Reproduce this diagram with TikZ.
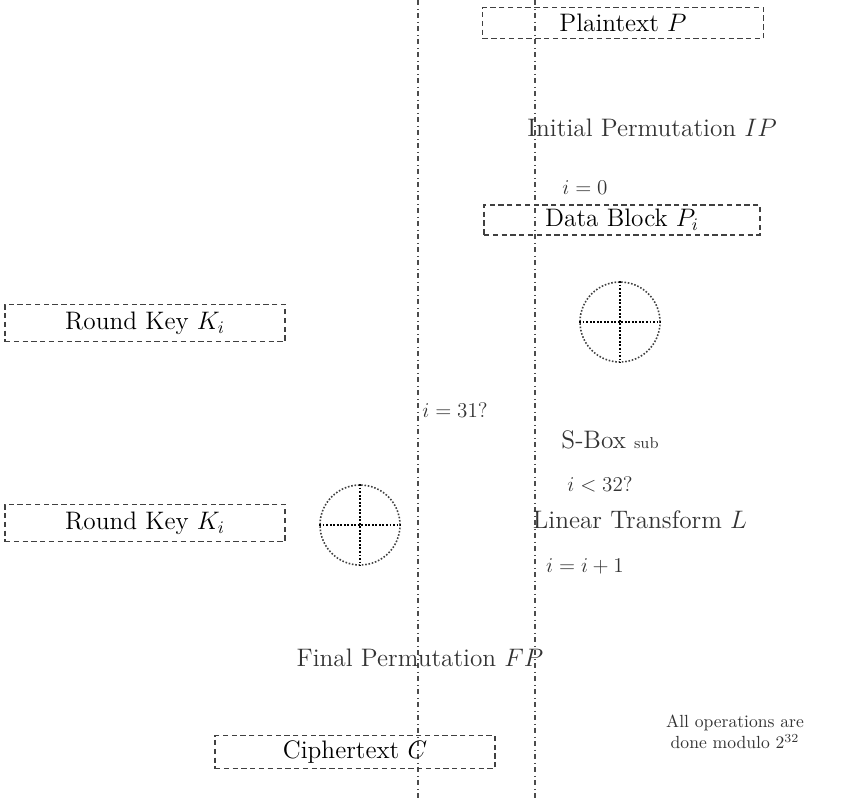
\documentclass[tikz,border=0pt]{standalone}
\usepackage{amsmath,amssymb}
\usepackage{tikz}
\usetikzlibrary{calc}

\tikzset{
  keybox/.style={draw=black!75,densely dashed,line width=0.7pt,inner sep=2pt,font=\Large},
  xorop/.style={draw=black!75,densely dotted,line width=0.9pt,circle,minimum size=1.6cm,inner sep=0pt},
  busline/.style={draw=black!70,dash dot,line width=0.7pt},
  lbl/.style={font=\Large,text=black!80},
}

\begin{document}
\begin{tikzpicture}[x=0.02cm,y=-0.02cm]
  \useasboundingbox (0,0) rectangle (854,798);
  % the two long lines
  \coordinate (lt) at (418,0);
  \coordinate (lb) at (418,798);
  \coordinate (rt) at (535,0);
  \coordinate (rb) at (535,798);
  \draw[busline] (lt)--(lb);
  \draw[busline] (rt)--(rb);
  % boxes
  \node[keybox,minimum width=5.62cm,minimum height=0.62cm] (plain) at (623,23) {Plaintext $P$};
  \node[keybox,minimum width=5.52cm,minimum height=0.6cm] (data) at (622,220) {Data Block $P_i$};
  \node[keybox,minimum width=5.6cm,minimum height=0.75cm] (key1) at (145,323) {Round Key $K_i$};
  \node[keybox,minimum width=5.6cm,minimum height=0.75cm] (key2) at (145,523) {Round Key $K_i$};
  \node[keybox,minimum width=5.6cm,minimum height=0.66cm] (cipher) at (355,752) {Ciphertext $C$};
  % xor
  \node[xorop] (xr) at (620,322) {};
  \draw[line width=1pt,densely dotted] (xr.north)--(xr.south) (xr.west)--(xr.east);
  \node[xorop] (xl) at (360,525) {};
  \draw[line width=1pt,densely dotted] (xl.north)--(xl.south) (xl.west)--(xl.east);
  % labels
  \node[lbl] (ip) at (652,128) {Initial Permutation $IP$};
  \node[lbl,font=\large] (i0) at (585,188) {$i=0$};
  \node[lbl,font=\large] (ichk) at (455,410) {$i=31$?};
  \node[lbl] (sbox) at (610,440) {S-Box {\small sub}};
  \node[lbl,font=\large] (ilt) at (600,484) {$i<32$?};
  \node[lbl] (lin) at (640,520) {Linear Transform $L$};
  \node[lbl,font=\large] (inc) at (585,566) {$i=i+1$};
  \node[lbl] (fp) at (420,658) {Final Permutation $FP$};
  \node[lbl,font=\normalsize,align=center] (note) at (735,732) {All operations are\\done modulo $2^{32}$};
\end{tikzpicture}
\end{document}
